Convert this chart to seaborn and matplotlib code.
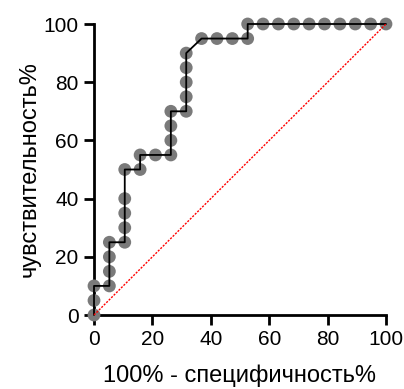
import matplotlib
matplotlib.use("Agg")
import matplotlib.pyplot as plt
import seaborn as sns
import pandas as pd

fpr = [0, 0, 0, 5.26, 5.26, 5.26, 5.26, 10.53, 10.53, 10.53, 10.53, 10.53,
       15.79, 15.79, 21.05, 26.32, 26.32, 26.32, 26.32, 31.58, 31.58, 31.58,
       31.58, 31.58, 36.84, 42.11, 47.37, 52.63, 52.63, 57.89, 63.16, 68.42,
       73.68, 78.95, 84.21, 89.47, 94.74, 100]
tpr = [0, 5, 10, 10, 15, 20, 25, 25, 30, 35, 40, 50,
       50, 55, 55, 55, 60, 65, 70, 70, 75, 80,
       85, 90, 95, 95, 95, 95, 100, 100, 100, 100,
       100, 100, 100, 100, 100, 100]
diag_x = [0, 100]
diag_y = [0, 100]
xticks = [0, 20, 40, 60, 80, 100]
yticks = [0, 20, 40, 60, 80, 100]

df = pd.DataFrame({"fpr": fpr, "tpr": tpr})
dg = pd.DataFrame({"x": diag_x, "y": diag_y})

sns.set_style("ticks")
plt.rcParams["font.family"] = ["Liberation Sans", "DejaVu Sans"]

fig = plt.figure(figsize=(4.04, 3.89), dpi=100)
ax = fig.add_axes([0.2327, 0.1902, 0.7227, 0.7481])

sns.scatterplot(data=df, x="fpr", y="tpr", ax=ax, s=85, color="#7a7a7a",
                edgecolor="none", clip_on=False, zorder=3)
sns.lineplot(data=df, x="fpr", y="tpr", ax=ax, sort=False, estimator=None,
             color="black", linewidth=1.3, zorder=4, clip_on=False)
sns.lineplot(data=dg, x="x", y="y", ax=ax, color="red", linewidth=1.0,
             linestyle=(0, (1.5, 1)), zorder=5, clip_on=False)

ax.set_xlim(0, 100)
ax.set_ylim(0, 100)
ax.set_xticks(xticks)
ax.set_yticks(yticks)
ax.set_xticklabels([str(t) for t in xticks])
ax.set_yticklabels([str(t) for t in yticks])
ax.tick_params(axis="both", labelsize=15, length=7.5, width=2, color="black",
               labelcolor="black", pad=3.5)
for s in ["left", "bottom"]:
    ax.spines[s].set_linewidth(2)
    ax.spines[s].set_color("black")
for s in ["top", "right"]:
    ax.spines[s].set_visible(False)
ax.set_xlabel("100% - специфичность%", fontsize=17, labelpad=11, color="black")
ax.set_ylabel("чувствительность%", fontsize=17, labelpad=2, color="black")

fig.savefig("out.png", dpi=100)
